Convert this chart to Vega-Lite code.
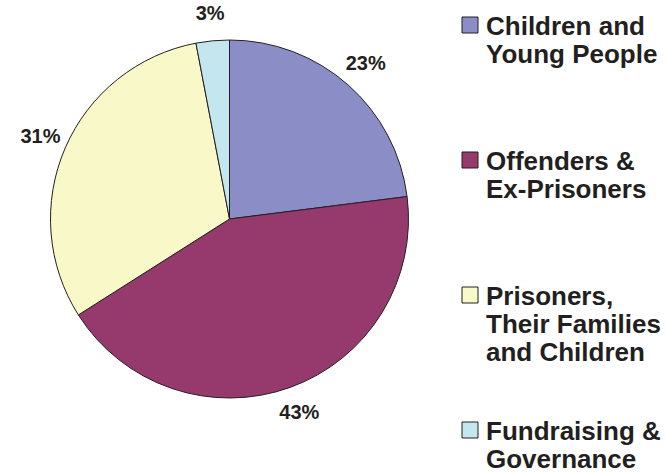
{
  "$schema": "https://vega.github.io/schema/vega-lite/v6.json",
  "width": 459,
  "height": 438,
  "autosize": {"type": "none"},
  "padding": {"left": 0, "top": 0, "right": 207, "bottom": 35},
  "background": "white",
  "data": {
    "values": [
      {"category": "Children and Young People", "share": 23, "label": "23%", "order": 1},
      {"category": "Offenders & Ex-Prisoners", "share": 43, "label": "43%", "order": 2},
      {"category": "Prisoners, Their Families and Children", "share": 31, "label": "31%", "order": 3},
      {"category": "Fundraising & Governance", "share": 3, "label": "3%", "order": 4}
    ]
  },
  "encoding": {
    "theta": {"field": "share", "type": "quantitative", "stack": true},
    "order": {"field": "order", "type": "quantitative"}
  },
  "layer": [
    {
      "mark": {"type": "arc", "outerRadius": 179, "stroke": "#231F20", "strokeWidth": 1},
      "encoding": {
        "color": {
          "field": "category",
          "type": "nominal",
          "scale": {
            "domain": ["Children and Young People", "Offenders & Ex-Prisoners", "Prisoners, Their Families and Children", "Fundraising & Governance"],
            "range": ["#8B8EC6", "#963A6E", "#F8F8C8", "#C4E6EE"]
          },
          "legend": {
            "orient": "none",
            "legendX": 457,
            "legendY": 12,
            "title": null,
            "padding": 0,
            "gridAlign": "all",
            "symbolType": "square",
            "symbolSize": 256,
            "symbolStrokeColor": "#231F20",
            "symbolStrokeWidth": 1,
            "symbolOpacity": 1,
            "labelFont": "Liberation Sans",
            "labelFontWeight": "bold",
            "labelFontSize": 26,
            "labelLineHeight": 29,
            "labelLimit": 0,
            "labelColor": "#231F20",
            "labelOffset": 3,
            "labelBaseline": "alphabetic",
            "rowPadding": 51,
            "encode": {"labels": {"update": {"dy": {"value": 10}}}},
            "labelExpr": "datum.label == 'Children and Young People' ? ['Children and', 'Young People'] : datum.label == 'Offenders & Ex-Prisoners' ? ['Offenders &', 'Ex-Prisoners'] : datum.label == 'Fundraising & Governance' ? ['Fundraising &', 'Governance'] : ['Prisoners,', 'Their Families', 'and Children']"
          }
        }
      }
    },
    {
      "mark": {"type": "text", "radius": 206, "font": "Liberation Sans", "fontWeight": "bold", "fontSize": 20},
      "encoding": {
        "text": {"field": "label", "type": "nominal"},
        "color": {"value": "#231F20"}
      }
    }
  ],
  "config": {"view": {"stroke": null}}
}
